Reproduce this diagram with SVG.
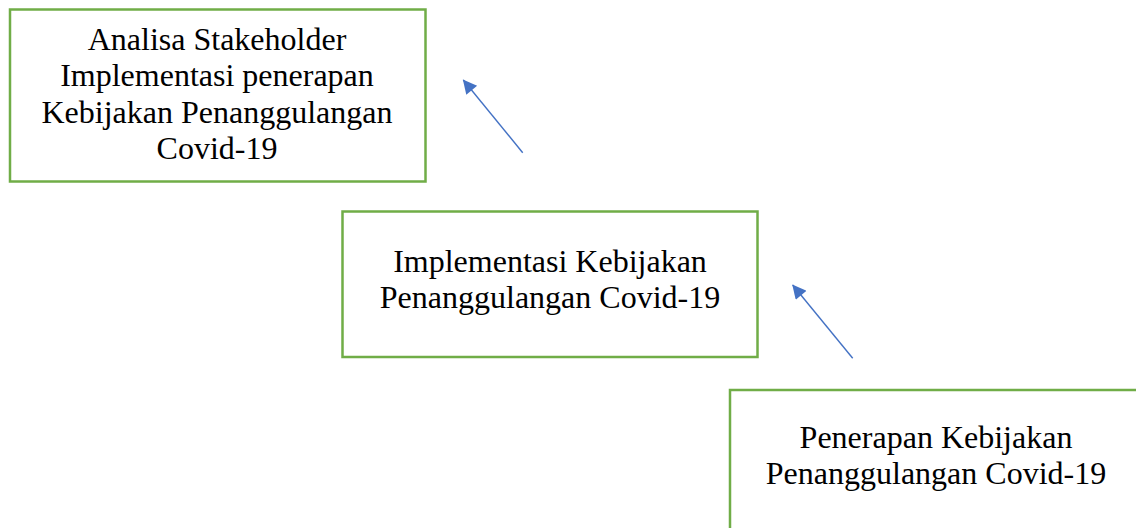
<svg xmlns="http://www.w3.org/2000/svg" width="1136" height="528" viewBox="0 0 1136 528">
<style>
.box{fill:#fff;stroke:#70AD47;stroke-width:2.5}
.t{font-family:"Liberation Serif","Times New Roman",serif;font-size:32px;fill:#000;text-anchor:middle}
.c{stroke:#4472C4;stroke-width:1.4;fill:none}
</style>
<defs>
<marker id="ah" viewBox="0 0 10 10" refX="9.5" refY="5" markerWidth="16" markerHeight="14" markerUnits="userSpaceOnUse" orient="auto">
<path d="M0,0 L10,5 L0,10 z" fill="#4472C4"/>
</marker>
</defs>
<rect width="1136" height="528" fill="#fff"/>
<g id="node1">
<rect class="box" x="10" y="9.5" width="415.5" height="172"/>
<text class="t" x="217" y="49.5">Analisa Stakeholder</text>
<text class="t" x="217" y="86">Implementasi penerapan</text>
<text class="t" x="217" y="122.5">Kebijakan Penanggulangan</text>
<text class="t" x="217" y="159">Covid-19</text>
</g>
<g id="node2">
<rect class="box" x="342.5" y="211.5" width="415" height="145.5"/>
<text class="t" x="550" y="272">Implementasi Kebijakan</text>
<text class="t" x="550" y="307.5">Penanggulangan Covid-19</text>
</g>
<g id="node3">
<rect class="box" x="730" y="390" width="420" height="150"/>
<text class="t" x="936" y="448">Penerapan Kebijakan</text>
<text class="t" x="936" y="483.5">Penanggulangan Covid-19</text>
</g>
<g id="connectors">
<line class="c" x1="522.7" y1="152.7" x2="463.3" y2="80" marker-end="url(#ah)"/>
<line class="c" x1="852.7" y1="358.3" x2="792.7" y2="285" marker-end="url(#ah)"/>
</g>
</svg>
